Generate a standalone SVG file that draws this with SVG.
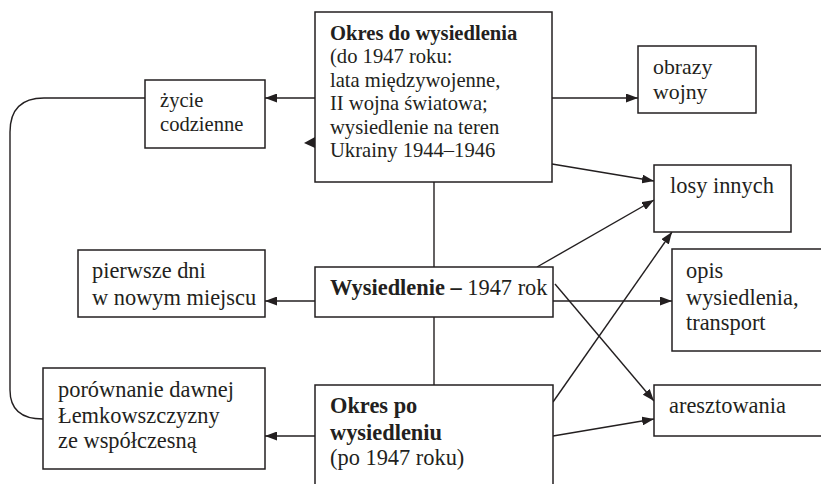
<svg xmlns="http://www.w3.org/2000/svg" width="821" height="484" viewBox="0 0 821 484">
  <defs>
    <marker id="arrow" viewBox="0 0 12 9" refX="12" refY="4.5" markerWidth="12" markerHeight="9" markerUnits="userSpaceOnUse" orient="auto">
      <path d="M0,0 L12,4.5 L0,9 Z" fill="#231f20"/>
    </marker>
  </defs>
  <style>
    .box { fill: #ffffff; stroke: #231f20; stroke-width: 1.5; }
    .link { fill: none; stroke: #231f20; stroke-width: 1.4; }
    .arr { fill: none; stroke: #231f20; stroke-width: 1.4; marker-end: url(#arrow); }
    text { font-family: "Liberation Serif", "Times New Roman", serif; font-size: 22.4px; fill: #231f20; }
    .s { font-size: 20.6px; }
    .m { font-size: 21.8px; }
    .b { font-weight: bold; }
  </style>
  <rect width="821" height="484" fill="#ffffff"/>

  <g id="connectors">
    <!-- vertical spine between the three periods -->
    <line class="link" x1="434" y1="182" x2="434" y2="267"/>
    <line class="link" x1="434" y1="317" x2="434" y2="385"/>
    <!-- loop joining everyday life and the comparison box -->
    <path class="link" d="M145,98 H44 Q10,98 10,132 V390 Q10,419 43,419"/>
    <!-- arrows from the pre-displacement period -->
    <line class="arr" x1="315" y1="98" x2="265" y2="98"/>
    <line class="arr" x1="552" y1="98" x2="638" y2="98"/>
    <line class="arr" x1="552" y1="164" x2="654" y2="181"/>
    <!-- arrows from the displacement -->
    <line class="arr" x1="315" y1="301" x2="265" y2="301"/>
    <line class="arr" x1="553" y1="301" x2="672" y2="301"/>
    <line class="arr" x1="537" y1="267" x2="654" y2="200"/>
    <line class="arr" x1="555" y1="284" x2="654" y2="401"/>
    <!-- arrows from the post-displacement period -->
    <line class="arr" x1="315" y1="436" x2="265" y2="436"/>
    <line class="arr" x1="553" y1="402" x2="672" y2="232"/>
    <line class="arr" x1="553" y1="436" x2="654" y2="419"/>
    <!-- lone arrowhead at the left side of the first period box -->
    <path d="M304,143 L315,137 L315,148 Z" fill="#231f20"/>
  </g>

  <g id="okres-do">
    <rect class="box" x="315" y="12" width="237" height="170"/>
    <text x="330" y="39.5" class="s b">Okres do wysiedlenia</text>
    <text x="330" y="63" class="s">(do 1947 roku:</text>
    <text x="330" y="86.5" class="s">lata międzywojenne,</text>
    <text x="330" y="110" class="s">II wojna światowa;</text>
    <text x="330" y="133.5" class="s">wysiedlenie na teren</text>
    <text x="330" y="157" class="s">Ukrainy 1944–1946</text>
  </g>

  <g id="zycie">
    <rect class="box" x="145" y="80" width="120" height="68"/>
    <text x="160" y="107" class="s">życie</text>
    <text x="160" y="131" class="s">codzienne</text>
  </g>

  <g id="obrazy">
    <rect class="box" x="638" y="46" width="118" height="67"/>
    <text x="653" y="74" class="m">obrazy</text>
    <text x="653" y="99" class="m">wojny</text>
  </g>

  <g id="losy">
    <rect class="box" x="654" y="165" width="137" height="67"/>
    <text x="670" y="193">losy innych</text>
  </g>

  <g id="wysiedlenie">
    <rect class="box" x="315" y="267" width="238" height="50"/>
    <text x="330" y="295"><tspan class="b">Wysiedlenie –</tspan> 1947 rok</text>
  </g>

  <g id="pierwsze">
    <rect class="box" x="78" y="250" width="187" height="67"/>
    <text x="92" y="278">pierwsze dni</text>
    <text x="92" y="305">w nowym miejscu</text>
  </g>

  <g id="opis">
    <rect class="box" x="672" y="249" width="155" height="102"/>
    <text x="686" y="278">opis</text>
    <text x="686" y="305">wysiedlenia,</text>
    <text x="686" y="330">transport</text>
  </g>

  <g id="okres-po">
    <rect class="box" x="315" y="385" width="238" height="105"/>
    <text x="330" y="413" class="b">Okres po</text>
    <text x="330" y="440" class="b">wysiedleniu</text>
    <text x="330" y="465">(po 1947 roku)</text>
  </g>

  <g id="porownanie">
    <rect class="box" x="43" y="368" width="222" height="101"/>
    <text x="58" y="397">porównanie dawnej</text>
    <text x="58" y="423">Łemkowszczyzny</text>
    <text x="58" y="448">ze współczesną</text>
  </g>

  <g id="aresztowania">
    <rect class="box" x="654" y="385" width="172" height="51"/>
    <text x="669" y="413">aresztowania</text>
  </g>
</svg>
